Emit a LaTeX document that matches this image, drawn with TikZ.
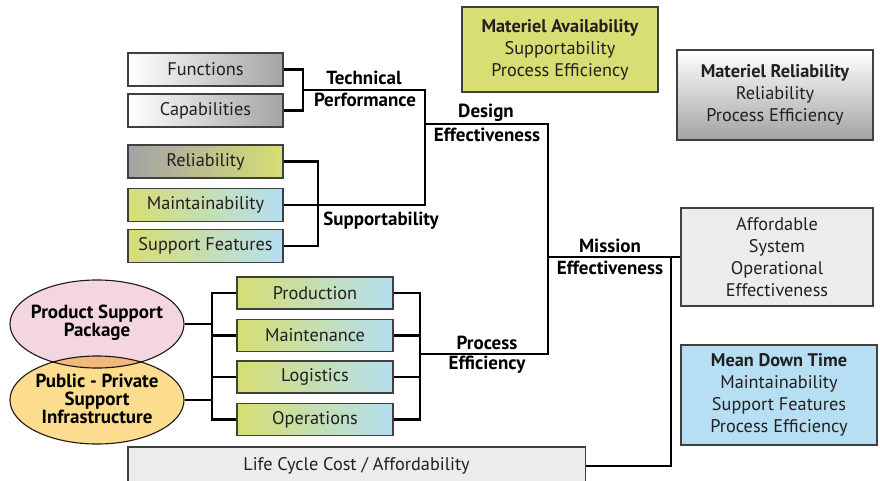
\documentclass[tikz,border=0pt]{standalone}
\usepackage{fontspec}
\setmainfont{PT Sans}
\usepackage{tikz}
\usetikzlibrary{shapes.geometric}

\definecolor{ink}{HTML}{231F20}
\definecolor{yg}{HTML}{D6DE72}
\definecolor{sky}{HTML}{B4DFF2}
\definecolor{steel}{HTML}{A2A3A5}
\definecolor{avail}{HTML}{D7DF74}
\definecolor{mdt}{HTML}{B6DFF4}
\definecolor{pale}{HTML}{EBECEB}
\definecolor{rose}{HTML}{F3D6DF}
\definecolor{sand}{HTML}{FCDC8E}

\begin{document}
\begin{tikzpicture}[x=0.025cm, y=-0.025cm,
  every node/.style={font=\fontsize{13}{15.6}\selectfont, text=ink},
  box/.style={draw=black!75, line width=0.8pt, minimum width=3.875cm, minimum height=0.825cm},
  pbox/.style={box, minimum width=3.9cm, minimum height=0.8cm, left color=yg, right color=sky},
  wire/.style={line width=2pt, black},
  lbl/.style={font=\fontsize{13.5}{15.6}\selectfont\bfseries, text=black, inner sep=1pt},
  bubble/.style={ellipse, draw=ink, line width=0.8pt, minimum width=4.35cm, minimum height=2.2cm}
]
\useasboundingbox (0,0) rectangle (880,480);

% left column
\node[box, left color=white, right color=steel] (fun) at (205.5,69.5) {Functions};
\node[box, left color=white, right color=steel] (cap) at (205.5,110.5) {Capabilities};
\node[box, left color=steel, right color=yg] (rel) at (205.5,161.5) {Reliability};
\node[box, left color=yg, right color=sky] (mnt) at (205.5,205) {Maintainability};
\node[box, left color=yg, right color=sky] (sfe) at (205.5,246) {Support Features};

% process boxes
\node[pbox] (prod) at (315,293) {Production};
\node[pbox] (maint) at (315,335.5) {Maintenance};
\node[pbox] (logi) at (315,377) {Logistics};
\node[pbox] (oper) at (315,419.5) {Operations};

% ellipses
\begin{scope}[blend mode=multiply]
\node[bubble, fill=rose] (psp) at (97,324) {};
\node[bubble, fill=sand] (ppsi) at (97,400) {};
\end{scope}
\node[lbl, align=center, font=\fontsize{13.5}{13}\selectfont\bfseries] (psptxt) at (97,323) {Product Support\\Package};
\node[lbl, align=center, font=\fontsize{13.5}{12.6}\selectfont\bfseries] (ppsitxt) at (97,399) {Public - Private\\Support\\Infrastructure};

% right boxes
\node[box, fill=avail, minimum width=4.9cm, minimum height=2.125cm, align=center] (mav) at (560,49.5)
  {\textbf{Materiel Availability}\\Supportability\\Process Efficiency};
\node[box, top color=white, bottom color=steel, minimum width=4.9cm, minimum height=2.25cm, align=center] (mrel) at (775,95)
  {\textbf{Materiel Reliability}\\Reliability\\Process Efficiency};
\node[box, fill=pale, minimum width=4.8cm, minimum height=2.45cm, align=center] (aff) at (777,257)
  {Affordable\\System\\Operational\\Effectiveness};
\node[box, fill=mdt, minimum width=4.9cm, minimum height=2.5cm, align=center] (mdtb) at (779,395)
  {\textbf{Mean Down Time}\\Maintainability\\Support Features\\Process Efficiency};
\node[box, fill=pale, minimum width=11.425cm, minimum height=0.95cm] (lcc) at (356.5,466) {Life Cycle Cost / Affordability};

% labels
\node[lbl] (tech) at (364,78) {Technical};
\node[lbl] (perf) at (365,100) {Performance};
\node[lbl] (des) at (486,113) {Design};
\node[lbl] (deff) at (487,135) {Effectiveness};
\node[lbl] (supp) at (381,221) {Supportability};
\node[lbl] (mis) at (610,246) {Mission};
\node[lbl] (meff) at (610,268) {Effectiveness};
\node[lbl] (proc) at (487,343) {Process};
\node[lbl] (peff) at (487,365) {Efficiency};

% junctions
\coordinate (tp) at (303,90);
\coordinate (de) at (425,124);
\coordinate (sp) at (318,206);
\coordinate (me) at (548,257);
\coordinate (pe) at (420,354);
\coordinate (ps) at (212,357);
\coordinate (mj) at (671,257);

\draw[wire] (fun.east) -| (tp) |- (cap.east);
\draw[wire] (tp) -| (de) |- (mnt.east);
\draw[wire] (rel.east) -| (sp) |- (sfe.east);
\draw[wire] (de) -| (me) |- (pe);
\draw[wire] (me) -- (aff.west);
\draw[wire] (mj) |- (lcc.east);
\draw[wire] (prod.east) -| (pe) |- (oper.east);
\draw[wire] (maint.east) -- (maint.east -| pe);
\draw[wire] (logi.east) -- (logi.east -| pe);
\draw[wire] (prod.west) -| (ps) |- (oper.west);
\draw[wire] (maint.west) -- (maint.west -| ps);
\draw[wire] (logi.west) -- (logi.west -| ps);
\draw[wire] (psp.east) -- (psp.east -| ps);
\draw[wire] (ppsi.east) -- (ppsi.east -| ps);
\end{tikzpicture}
\end{document}
